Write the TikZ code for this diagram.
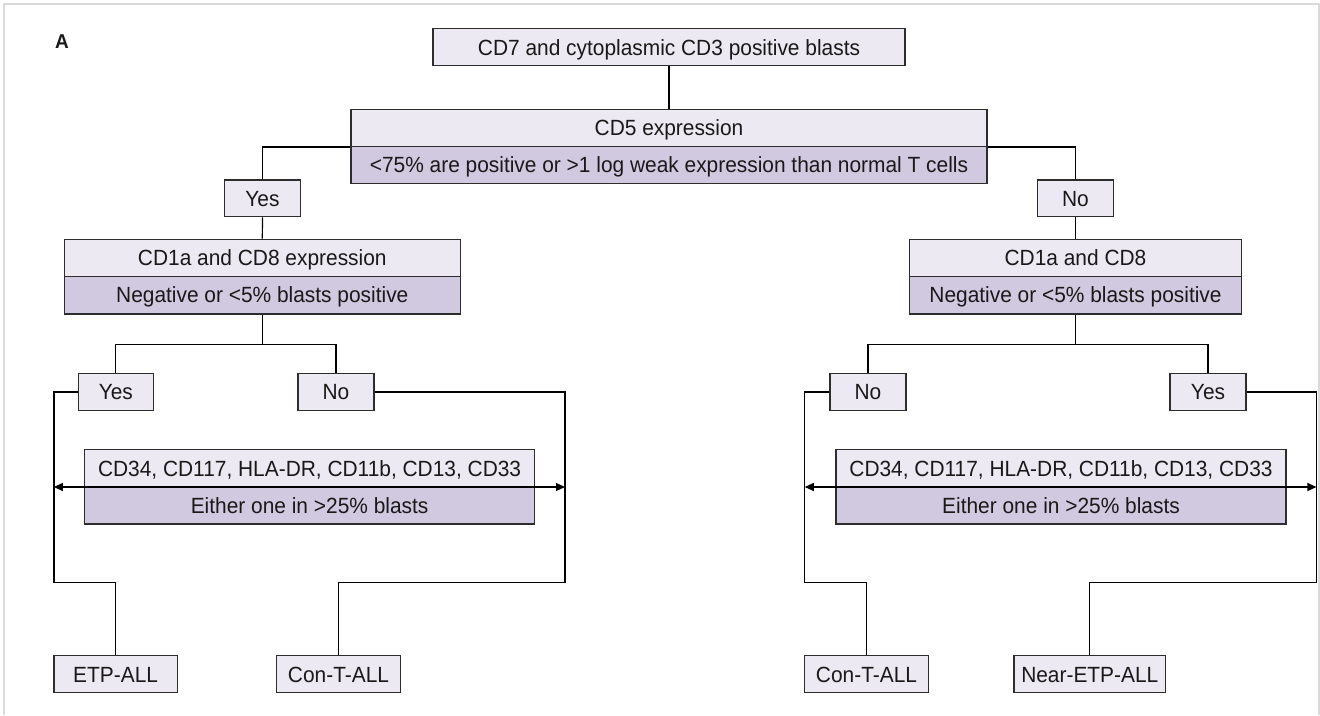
\documentclass[tikz,border=0pt]{standalone}
\usepackage{fontspec}
\setmainfont[FakeStretch=0.95]{Liberation Sans}
\usetikzlibrary{arrows.meta}
\definecolor{boxlight}{RGB}{237,233,242}
\definecolor{boxdark}{RGB}{209,201,224}
\definecolor{framegray}{RGB}{218,218,218}
\definecolor{edgegray}{RGB}{45,45,45}
\definecolor{txtcol}{RGB}{25,25,25}
\begin{document}
\begin{tikzpicture}[x=1pt,y=-1pt,
  box/.style={draw=edgegray, line width=1.3pt, inner sep=0pt, text=txtcol,
              font=\fontsize{22}{26}\selectfont, text height=15.7pt, text depth=0pt},
  lightbox/.style={box, fill=boxlight},
  darkbox/.style={box, fill=boxdark},
  conn/.style={draw=black, line width=1.2pt},
  dbl/.style={conn, {Triangle[length=9pt,width=8pt]}-{Triangle[length=9pt,width=8pt]}}
]
\useasboundingbox (0,0) rectangle (1320,715);
\fill[white] (0,0) rectangle (1320,715);
\draw[framegray, line width=2pt] (4,715) -- (4,4) -- (1319,4) -- (1319,715);

\node[font=\fontsize{20}{24}\selectfont\bfseries, text=txtcol, inner sep=0pt] (lblA) at (62,41.5) {A};

% top
\node[lightbox, minimum width=472pt, minimum height=37pt] (top) at (669,47.2) {CD7 and cytoplasmic CD3 positive blasts};
% CD5
\node[lightbox, minimum width=636pt, minimum height=37pt] (cdfivet) at (669,127.8) {CD5 expression};
\node[darkbox, minimum width=636pt, minimum height=37.4pt] (cdfiveb) at (669,165) {<75\% are positive or >1 log weak expression than normal T cells};
% Yes / No level 1
\node[lightbox, minimum width=76pt, minimum height=36.7pt] (yesA) at (262.5,198.3) {Yes};
\node[lightbox, minimum width=76pt, minimum height=36.7pt] (noA) at (1075.5,198.3) {No};
% CD1a boxes
\node[lightbox, minimum width=396pt, minimum height=37pt] (cdaLt) at (262.3,257.8) {CD1a and CD8 expression};
\node[darkbox, minimum width=396pt, minimum height=37.7pt] (cdaLb) at (262.3,295.1) {Negative or <5\% blasts positive};
\node[lightbox, minimum width=332pt, minimum height=37pt] (cdaRt) at (1075.5,257.8) {CD1a and CD8};
\node[darkbox, minimum width=332pt, minimum height=37.7pt] (cdaRb) at (1075.5,295.1) {Negative or <5\% blasts positive};
% Yes / No level 2
\node[lightbox, minimum width=75pt, minimum height=37.4pt] (yesB) at (115.8,392) {Yes};
\node[lightbox, minimum width=76pt, minimum height=37.4pt] (noB) at (336,392) {No};
\node[lightbox, minimum width=76pt, minimum height=37.4pt] (noC) at (868,392) {No};
\node[lightbox, minimum width=76pt, minimum height=37.4pt] (yesC) at (1208,392) {Yes};

% coordinates
\coordinate (jL) at (262.3,344.7);
\coordinate (jR) at (1075.5,344.7);
\coordinate (lL) at (53.9,582.3);
\coordinate (rL) at (565,582.3);
\coordinate (lR) at (804.8,582.3);
\coordinate (rR) at (1316.4,582.3);
\coordinate (aLa) at (53.9,487);
\coordinate (aLb) at (565,487);
\coordinate (aRa) at (804.8,487);
\coordinate (aRb) at (1316.4,487);

% marker boxes
\node[lightbox, minimum width=450pt, minimum height=37.3pt] (mkLt) at (309.6,468.3) {CD34, CD117, HLA-DR, CD11b, CD13, CD33};
\node[darkbox, minimum width=450pt, minimum height=37pt] (mkLb) at (309.6,505.5) {Either one in >25\% blasts};
\node[lightbox, minimum width=450pt, minimum height=37.3pt] (mkRt) at (1061,468.3) {CD34, CD117, HLA-DR, CD11b, CD13, CD33};
\node[darkbox, minimum width=450pt, minimum height=37pt] (mkRb) at (1061,505.5) {Either one in >25\% blasts};

% outcomes
\node[lightbox, minimum width=123.3pt, minimum height=37pt] (etp) at (115.6,674.2) {ETP-ALL};
\node[lightbox, minimum width=124pt, minimum height=37pt] (conL) at (338.5,674.2) {Con-T-ALL};
\node[lightbox, minimum width=124pt, minimum height=37pt] (conR) at (866.5,674.2) {Con-T-ALL};
\node[lightbox, minimum width=151.6pt, minimum height=37pt] (near) at (1089.8,674.2) {Near-ETP-ALL};

% connectors
\draw[conn] (top.south) -- (cdfivet.north);
\draw[conn] (cdfivet.south west) -| (yesA.north);
\draw[conn] (cdfivet.south east) -| (noA.north);
\draw[conn] (yesA.south) -- (cdaLt.north);
\draw[conn] (noA.south) -- (cdaRt.north);
\draw[conn] (cdaLb.south) -- (jL);
\draw[conn] (yesB.north) |- (jL) -| (noB.north);
\draw[conn] (cdaRb.south) -- (jR);
\draw[conn] (noC.north) |- (jR) -| (yesC.north);
\draw[conn] (yesB.west) -| (lL) -| (etp.north);
\draw[conn] (noB.east) -| (rL) -| (conL.north);
\draw[conn] (noC.west) -| (lR) -| (conR.north);
\draw[conn] (yesC.east) -| (rR) -| (near.north);
\draw[dbl] (aLa) -- (aLb);
\draw[dbl] (aRa) -- (aRb);
\end{tikzpicture}
\end{document}
